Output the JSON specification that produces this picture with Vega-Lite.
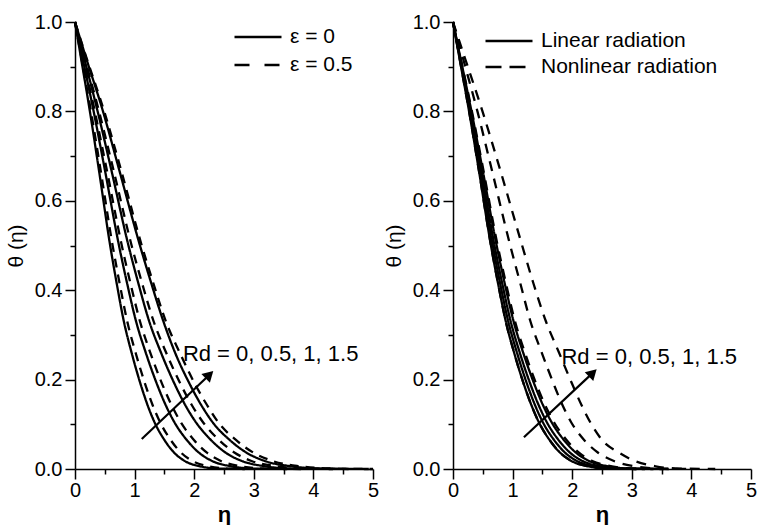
{
"$schema":"https://vega.github.io/schema/vega-lite/v6.json",
"background":"white",
"padding":{"left":5,"top":12,"right":5,"bottom":0},
"config":{
"view":{"stroke":null},
"font":"Liberation Sans",
"axis":{"domainColor":"black","domainWidth":1.5,"tickColor":"black","tickWidth":1.5,"labelColor":"black","titleColor":"black","grid":false,"labelFont":"Liberation Sans","labelFontSize":20,"titleFont":"Liberation Sans","titleFontSize":21,"titleFontWeight":"normal","labelFlush":false,"labelOverlap":false},
"legend":{"padding":0,"labelFont":"Liberation Sans","labelFontSize":21,"labelColor":"black","labelLimit":400,"symbolType":"stroke","symbolSize":2209,"symbolStrokeWidth":2.5,"symbolStrokeColor":"black","clipHeight":20,"labelOffset":7}
},
"datasets":{
"left":[
{"curve":"Rd0_e0","series":"ε = 0","eta":0,"theta":1},{"curve":"Rd0_e0","series":"ε = 0","eta":0.10,"theta":0.92},{"curve":"Rd0_e0","series":"ε = 0","eta":0.25,"theta":0.8},{"curve":"Rd0_e0","series":"ε = 0","eta":0.40,"theta":0.67},{"curve":"Rd0_e0","series":"ε = 0","eta":0.59,"theta":0.5},{"curve":"Rd0_e0","series":"ε = 0","eta":0.70,"theta":0.415},{"curve":"Rd0_e0","series":"ε = 0","eta":0.82,"theta":0.33},{"curve":"Rd0_e0","series":"ε = 0","eta":0.95,"theta":0.26},{"curve":"Rd0_e0","series":"ε = 0","eta":1.10,"theta":0.19},{"curve":"Rd0_e0","series":"ε = 0","eta":1.22,"theta":0.142},{"curve":"Rd0_e0","series":"ε = 0","eta":1.34,"theta":0.103},{"curve":"Rd0_e0","series":"ε = 0","eta":1.50,"theta":0.065},{"curve":"Rd0_e0","series":"ε = 0","eta":1.66,"theta":0.037},{"curve":"Rd0_e0","series":"ε = 0","eta":1.84,"theta":0.018},{"curve":"Rd0_e0","series":"ε = 0","eta":2.10,"theta":0.006},{"curve":"Rd0_e0","series":"ε = 0","eta":2.40,"theta":0.001},{"curve":"Rd0_e0","series":"ε = 0","eta":2.85,"theta":0},
{"curve":"Rd0_e05","series":"ε = 0.5","eta":0,"theta":1},{"curve":"Rd0_e05","series":"ε = 0.5","eta":0.107,"theta":0.92},{"curve":"Rd0_e05","series":"ε = 0.5","eta":0.268,"theta":0.8},{"curve":"Rd0_e05","series":"ε = 0.5","eta":0.428,"theta":0.67},{"curve":"Rd0_e05","series":"ε = 0.5","eta":0.631,"theta":0.5},{"curve":"Rd0_e05","series":"ε = 0.5","eta":0.749,"theta":0.415},{"curve":"Rd0_e05","series":"ε = 0.5","eta":0.877,"theta":0.33},{"curve":"Rd0_e05","series":"ε = 0.5","eta":1.017,"theta":0.26},{"curve":"Rd0_e05","series":"ε = 0.5","eta":1.177,"theta":0.19},{"curve":"Rd0_e05","series":"ε = 0.5","eta":1.305,"theta":0.142},{"curve":"Rd0_e05","series":"ε = 0.5","eta":1.434,"theta":0.103},{"curve":"Rd0_e05","series":"ε = 0.5","eta":1.605,"theta":0.065},{"curve":"Rd0_e05","series":"ε = 0.5","eta":1.776,"theta":0.037},{"curve":"Rd0_e05","series":"ε = 0.5","eta":1.969,"theta":0.018},{"curve":"Rd0_e05","series":"ε = 0.5","eta":2.247,"theta":0.006},{"curve":"Rd0_e05","series":"ε = 0.5","eta":2.568,"theta":0.001},{"curve":"Rd0_e05","series":"ε = 0.5","eta":3.05,"theta":0},
{"curve":"Rd05_e0","series":"ε = 0","eta":0,"theta":1},{"curve":"Rd05_e0","series":"ε = 0","eta":0.125,"theta":0.92},{"curve":"Rd05_e0","series":"ε = 0","eta":0.313,"theta":0.8},{"curve":"Rd05_e0","series":"ε = 0","eta":0.5,"theta":0.67},{"curve":"Rd05_e0","series":"ε = 0","eta":0.738,"theta":0.5},{"curve":"Rd05_e0","series":"ε = 0","eta":0.875,"theta":0.415},{"curve":"Rd05_e0","series":"ε = 0","eta":1.025,"theta":0.33},{"curve":"Rd05_e0","series":"ε = 0","eta":1.188,"theta":0.26},{"curve":"Rd05_e0","series":"ε = 0","eta":1.375,"theta":0.19},{"curve":"Rd05_e0","series":"ε = 0","eta":1.525,"theta":0.142},{"curve":"Rd05_e0","series":"ε = 0","eta":1.675,"theta":0.103},{"curve":"Rd05_e0","series":"ε = 0","eta":1.875,"theta":0.065},{"curve":"Rd05_e0","series":"ε = 0","eta":2.075,"theta":0.037},{"curve":"Rd05_e0","series":"ε = 0","eta":2.3,"theta":0.018},{"curve":"Rd05_e0","series":"ε = 0","eta":2.625,"theta":0.006},{"curve":"Rd05_e0","series":"ε = 0","eta":3.0,"theta":0.001},{"curve":"Rd05_e0","series":"ε = 0","eta":3.56,"theta":0},
{"curve":"Rd05_e05","series":"ε = 0.5","eta":0,"theta":1},{"curve":"Rd05_e05","series":"ε = 0.5","eta":0.133,"theta":0.92},{"curve":"Rd05_e05","series":"ε = 0.5","eta":0.333,"theta":0.8},{"curve":"Rd05_e05","series":"ε = 0.5","eta":0.532,"theta":0.67},{"curve":"Rd05_e05","series":"ε = 0.5","eta":0.785,"theta":0.5},{"curve":"Rd05_e05","series":"ε = 0.5","eta":0.931,"theta":0.415},{"curve":"Rd05_e05","series":"ε = 0.5","eta":1.091,"theta":0.33},{"curve":"Rd05_e05","series":"ε = 0.5","eta":1.264,"theta":0.26},{"curve":"Rd05_e05","series":"ε = 0.5","eta":1.463,"theta":0.19},{"curve":"Rd05_e05","series":"ε = 0.5","eta":1.623,"theta":0.142},{"curve":"Rd05_e05","series":"ε = 0.5","eta":1.782,"theta":0.103},{"curve":"Rd05_e05","series":"ε = 0.5","eta":1.995,"theta":0.065},{"curve":"Rd05_e05","series":"ε = 0.5","eta":2.208,"theta":0.037},{"curve":"Rd05_e05","series":"ε = 0.5","eta":2.447,"theta":0.018},{"curve":"Rd05_e05","series":"ε = 0.5","eta":2.793,"theta":0.006},{"curve":"Rd05_e05","series":"ε = 0.5","eta":3.192,"theta":0.001},{"curve":"Rd05_e05","series":"ε = 0.5","eta":3.79,"theta":0},
{"curve":"Rd1_e0","series":"ε = 0","eta":0,"theta":1},{"curve":"Rd1_e0","series":"ε = 0","eta":0.152,"theta":0.92},{"curve":"Rd1_e0","series":"ε = 0","eta":0.38,"theta":0.8},{"curve":"Rd1_e0","series":"ε = 0","eta":0.608,"theta":0.67},{"curve":"Rd1_e0","series":"ε = 0","eta":0.897,"theta":0.5},{"curve":"Rd1_e0","series":"ε = 0","eta":1.064,"theta":0.415},{"curve":"Rd1_e0","series":"ε = 0","eta":1.246,"theta":0.33},{"curve":"Rd1_e0","series":"ε = 0","eta":1.444,"theta":0.26},{"curve":"Rd1_e0","series":"ε = 0","eta":1.672,"theta":0.19},{"curve":"Rd1_e0","series":"ε = 0","eta":1.854,"theta":0.142},{"curve":"Rd1_e0","series":"ε = 0","eta":2.037,"theta":0.103},{"curve":"Rd1_e0","series":"ε = 0","eta":2.28,"theta":0.065},{"curve":"Rd1_e0","series":"ε = 0","eta":2.523,"theta":0.037},{"curve":"Rd1_e0","series":"ε = 0","eta":2.797,"theta":0.018},{"curve":"Rd1_e0","series":"ε = 0","eta":3.192,"theta":0.006},{"curve":"Rd1_e0","series":"ε = 0","eta":3.648,"theta":0.001},{"curve":"Rd1_e0","series":"ε = 0","eta":4.33,"theta":0},
{"curve":"Rd1_e05","series":"ε = 0.5","eta":0,"theta":1},{"curve":"Rd1_e05","series":"ε = 0.5","eta":0.161,"theta":0.92},{"curve":"Rd1_e05","series":"ε = 0.5","eta":0.403,"theta":0.8},{"curve":"Rd1_e05","series":"ε = 0.5","eta":0.644,"theta":0.67},{"curve":"Rd1_e05","series":"ε = 0.5","eta":0.95,"theta":0.5},{"curve":"Rd1_e05","series":"ε = 0.5","eta":1.127,"theta":0.415},{"curve":"Rd1_e05","series":"ε = 0.5","eta":1.32,"theta":0.33},{"curve":"Rd1_e05","series":"ε = 0.5","eta":1.53,"theta":0.26},{"curve":"Rd1_e05","series":"ε = 0.5","eta":1.771,"theta":0.19},{"curve":"Rd1_e05","series":"ε = 0.5","eta":1.964,"theta":0.142},{"curve":"Rd1_e05","series":"ε = 0.5","eta":2.157,"theta":0.103},{"curve":"Rd1_e05","series":"ε = 0.5","eta":2.415,"theta":0.065},{"curve":"Rd1_e05","series":"ε = 0.5","eta":2.673,"theta":0.037},{"curve":"Rd1_e05","series":"ε = 0.5","eta":2.962,"theta":0.018},{"curve":"Rd1_e05","series":"ε = 0.5","eta":3.381,"theta":0.006},{"curve":"Rd1_e05","series":"ε = 0.5","eta":3.864,"theta":0.001},{"curve":"Rd1_e05","series":"ε = 0.5","eta":4.59,"theta":0},
{"curve":"Rd15_e0","series":"ε = 0","eta":0,"theta":1},{"curve":"Rd15_e0","series":"ε = 0","eta":0.185,"theta":0.92},{"curve":"Rd15_e0","series":"ε = 0","eta":0.47,"theta":0.8},{"curve":"Rd15_e0","series":"ε = 0","eta":0.74,"theta":0.67},{"curve":"Rd15_e0","series":"ε = 0","eta":1.09,"theta":0.5},{"curve":"Rd15_e0","series":"ε = 0","eta":1.281,"theta":0.415},{"curve":"Rd15_e0","series":"ε = 0","eta":1.484,"theta":0.33},{"curve":"Rd15_e0","series":"ε = 0","eta":1.68,"theta":0.26},{"curve":"Rd15_e0","series":"ε = 0","eta":1.925,"theta":0.19},{"curve":"Rd15_e0","series":"ε = 0","eta":2.123,"theta":0.142},{"curve":"Rd15_e0","series":"ε = 0","eta":2.318,"theta":0.103},{"curve":"Rd15_e0","series":"ε = 0","eta":2.595,"theta":0.065},{"curve":"Rd15_e0","series":"ε = 0","eta":2.872,"theta":0.037},{"curve":"Rd15_e0","series":"ε = 0","eta":3.183,"theta":0.018},{"curve":"Rd15_e0","series":"ε = 0","eta":3.633,"theta":0.006},{"curve":"Rd15_e0","series":"ε = 0","eta":4.152,"theta":0.001},{"curve":"Rd15_e0","series":"ε = 0","eta":4.93,"theta":0},
{"curve":"Rd15_e05","series":"ε = 0.5","eta":0,"theta":1},{"curve":"Rd15_e05","series":"ε = 0.5","eta":0.193,"theta":0.92},{"curve":"Rd15_e05","series":"ε = 0.5","eta":0.49,"theta":0.8},{"curve":"Rd15_e05","series":"ε = 0.5","eta":0.77,"theta":0.67},{"curve":"Rd15_e05","series":"ε = 0.5","eta":1.12,"theta":0.5},{"curve":"Rd15_e05","series":"ε = 0.5","eta":1.316,"theta":0.415},{"curve":"Rd15_e05","series":"ε = 0.5","eta":1.525,"theta":0.33},{"curve":"Rd15_e05","series":"ε = 0.5","eta":1.758,"theta":0.26},{"curve":"Rd15_e05","series":"ε = 0.5","eta":2.013,"theta":0.19},{"curve":"Rd15_e05","series":"ε = 0.5","eta":2.22,"theta":0.142},{"curve":"Rd15_e05","series":"ε = 0.5","eta":2.412,"theta":0.103},{"curve":"Rd15_e05","series":"ε = 0.5","eta":2.70,"theta":0.065},{"curve":"Rd15_e05","series":"ε = 0.5","eta":2.988,"theta":0.037},{"curve":"Rd15_e05","series":"ε = 0.5","eta":3.312,"theta":0.018},{"curve":"Rd15_e05","series":"ε = 0.5","eta":3.78,"theta":0.006},{"curve":"Rd15_e05","series":"ε = 0.5","eta":4.32,"theta":0.001},{"curve":"Rd15_e05","series":"ε = 0.5","eta":5.0,"theta":0}
],
"right":[
{"curve":"L0","kind":"Linear radiation","eta":0,"theta":1},{"curve":"L0","kind":"Linear radiation","eta":0.108,"theta":0.92},{"curve":"L0","kind":"Linear radiation","eta":0.27,"theta":0.8},{"curve":"L0","kind":"Linear radiation","eta":0.432,"theta":0.67},{"curve":"L0","kind":"Linear radiation","eta":0.637,"theta":0.5},{"curve":"L0","kind":"Linear radiation","eta":0.756,"theta":0.415},{"curve":"L0","kind":"Linear radiation","eta":0.886,"theta":0.33},{"curve":"L0","kind":"Linear radiation","eta":1.026,"theta":0.26},{"curve":"L0","kind":"Linear radiation","eta":1.188,"theta":0.19},{"curve":"L0","kind":"Linear radiation","eta":1.318,"theta":0.142},{"curve":"L0","kind":"Linear radiation","eta":1.447,"theta":0.103},{"curve":"L0","kind":"Linear radiation","eta":1.62,"theta":0.065},{"curve":"L0","kind":"Linear radiation","eta":1.793,"theta":0.037},{"curve":"L0","kind":"Linear radiation","eta":1.987,"theta":0.018},{"curve":"L0","kind":"Linear radiation","eta":2.268,"theta":0.006},{"curve":"L0","kind":"Linear radiation","eta":2.592,"theta":0.001},{"curve":"L0","kind":"Linear radiation","eta":3.078,"theta":0},
{"curve":"L05","kind":"Linear radiation","eta":0,"theta":1},{"curve":"L05","kind":"Linear radiation","eta":0.113,"theta":0.92},{"curve":"L05","kind":"Linear radiation","eta":0.283,"theta":0.8},{"curve":"L05","kind":"Linear radiation","eta":0.452,"theta":0.67},{"curve":"L05","kind":"Linear radiation","eta":0.667,"theta":0.5},{"curve":"L05","kind":"Linear radiation","eta":0.791,"theta":0.415},{"curve":"L05","kind":"Linear radiation","eta":0.927,"theta":0.33},{"curve":"L05","kind":"Linear radiation","eta":1.074,"theta":0.26},{"curve":"L05","kind":"Linear radiation","eta":1.243,"theta":0.19},{"curve":"L05","kind":"Linear radiation","eta":1.379,"theta":0.142},{"curve":"L05","kind":"Linear radiation","eta":1.514,"theta":0.103},{"curve":"L05","kind":"Linear radiation","eta":1.695,"theta":0.065},{"curve":"L05","kind":"Linear radiation","eta":1.876,"theta":0.037},{"curve":"L05","kind":"Linear radiation","eta":2.079,"theta":0.018},{"curve":"L05","kind":"Linear radiation","eta":2.373,"theta":0.006},{"curve":"L05","kind":"Linear radiation","eta":2.712,"theta":0.001},{"curve":"L05","kind":"Linear radiation","eta":3.221,"theta":0},
{"curve":"L1","kind":"Linear radiation","eta":0,"theta":1},{"curve":"L1","kind":"Linear radiation","eta":0.118,"theta":0.92},{"curve":"L1","kind":"Linear radiation","eta":0.295,"theta":0.8},{"curve":"L1","kind":"Linear radiation","eta":0.472,"theta":0.67},{"curve":"L1","kind":"Linear radiation","eta":0.696,"theta":0.5},{"curve":"L1","kind":"Linear radiation","eta":0.826,"theta":0.415},{"curve":"L1","kind":"Linear radiation","eta":0.968,"theta":0.33},{"curve":"L1","kind":"Linear radiation","eta":1.121,"theta":0.26},{"curve":"L1","kind":"Linear radiation","eta":1.298,"theta":0.19},{"curve":"L1","kind":"Linear radiation","eta":1.44,"theta":0.142},{"curve":"L1","kind":"Linear radiation","eta":1.581,"theta":0.103},{"curve":"L1","kind":"Linear radiation","eta":1.77,"theta":0.065},{"curve":"L1","kind":"Linear radiation","eta":1.959,"theta":0.037},{"curve":"L1","kind":"Linear radiation","eta":2.171,"theta":0.018},{"curve":"L1","kind":"Linear radiation","eta":2.478,"theta":0.006},{"curve":"L1","kind":"Linear radiation","eta":2.832,"theta":0.001},{"curve":"L1","kind":"Linear radiation","eta":3.363,"theta":0},
{"curve":"L15","kind":"Linear radiation","eta":0,"theta":1},{"curve":"L15","kind":"Linear radiation","eta":0.124,"theta":0.92},{"curve":"L15","kind":"Linear radiation","eta":0.31,"theta":0.8},{"curve":"L15","kind":"Linear radiation","eta":0.496,"theta":0.67},{"curve":"L15","kind":"Linear radiation","eta":0.732,"theta":0.5},{"curve":"L15","kind":"Linear radiation","eta":0.868,"theta":0.415},{"curve":"L15","kind":"Linear radiation","eta":1.017,"theta":0.33},{"curve":"L15","kind":"Linear radiation","eta":1.178,"theta":0.26},{"curve":"L15","kind":"Linear radiation","eta":1.364,"theta":0.19},{"curve":"L15","kind":"Linear radiation","eta":1.513,"theta":0.142},{"curve":"L15","kind":"Linear radiation","eta":1.662,"theta":0.103},{"curve":"L15","kind":"Linear radiation","eta":1.86,"theta":0.065},{"curve":"L15","kind":"Linear radiation","eta":2.058,"theta":0.037},{"curve":"L15","kind":"Linear radiation","eta":2.282,"theta":0.018},{"curve":"L15","kind":"Linear radiation","eta":2.604,"theta":0.006},{"curve":"L15","kind":"Linear radiation","eta":2.976,"theta":0.001},{"curve":"L15","kind":"Linear radiation","eta":3.534,"theta":0},
{"curve":"N0","kind":"Nonlinear radiation","eta":0,"theta":1},{"curve":"N0","kind":"Nonlinear radiation","eta":0.108,"theta":0.92},{"curve":"N0","kind":"Nonlinear radiation","eta":0.27,"theta":0.8},{"curve":"N0","kind":"Nonlinear radiation","eta":0.432,"theta":0.67},{"curve":"N0","kind":"Nonlinear radiation","eta":0.637,"theta":0.5},{"curve":"N0","kind":"Nonlinear radiation","eta":0.756,"theta":0.415},{"curve":"N0","kind":"Nonlinear radiation","eta":0.886,"theta":0.33},{"curve":"N0","kind":"Nonlinear radiation","eta":1.026,"theta":0.26},{"curve":"N0","kind":"Nonlinear radiation","eta":1.188,"theta":0.19},{"curve":"N0","kind":"Nonlinear radiation","eta":1.318,"theta":0.142},{"curve":"N0","kind":"Nonlinear radiation","eta":1.447,"theta":0.103},{"curve":"N0","kind":"Nonlinear radiation","eta":1.62,"theta":0.065},{"curve":"N0","kind":"Nonlinear radiation","eta":1.793,"theta":0.037},{"curve":"N0","kind":"Nonlinear radiation","eta":1.987,"theta":0.018},{"curve":"N0","kind":"Nonlinear radiation","eta":2.268,"theta":0.006},{"curve":"N0","kind":"Nonlinear radiation","eta":2.592,"theta":0.001},{"curve":"N0","kind":"Nonlinear radiation","eta":3.078,"theta":0},
{"curve":"N05","kind":"Nonlinear radiation","eta":0,"theta":1},{"curve":"N05","kind":"Nonlinear radiation","eta":0.127,"theta":0.92},{"curve":"N05","kind":"Nonlinear radiation","eta":0.318,"theta":0.8},{"curve":"N05","kind":"Nonlinear radiation","eta":0.508,"theta":0.67},{"curve":"N05","kind":"Nonlinear radiation","eta":0.749,"theta":0.5},{"curve":"N05","kind":"Nonlinear radiation","eta":0.889,"theta":0.415},{"curve":"N05","kind":"Nonlinear radiation","eta":1.041,"theta":0.33},{"curve":"N05","kind":"Nonlinear radiation","eta":1.207,"theta":0.26},{"curve":"N05","kind":"Nonlinear radiation","eta":1.397,"theta":0.19},{"curve":"N05","kind":"Nonlinear radiation","eta":1.549,"theta":0.142},{"curve":"N05","kind":"Nonlinear radiation","eta":1.702,"theta":0.103},{"curve":"N05","kind":"Nonlinear radiation","eta":1.905,"theta":0.065},{"curve":"N05","kind":"Nonlinear radiation","eta":2.108,"theta":0.037},{"curve":"N05","kind":"Nonlinear radiation","eta":2.337,"theta":0.018},{"curve":"N05","kind":"Nonlinear radiation","eta":2.667,"theta":0.006},{"curve":"N05","kind":"Nonlinear radiation","eta":3.048,"theta":0.001},{"curve":"N05","kind":"Nonlinear radiation","eta":3.62,"theta":0},
{"curve":"N1","kind":"Nonlinear radiation","eta":0,"theta":1},{"curve":"N1","kind":"Nonlinear radiation","eta":0.165,"theta":0.92},{"curve":"N1","kind":"Nonlinear radiation","eta":0.41,"theta":0.8},{"curve":"N1","kind":"Nonlinear radiation","eta":0.65,"theta":0.67},{"curve":"N1","kind":"Nonlinear radiation","eta":0.96,"theta":0.5},{"curve":"N1","kind":"Nonlinear radiation","eta":1.13,"theta":0.415},{"curve":"N1","kind":"Nonlinear radiation","eta":1.3,"theta":0.33},{"curve":"N1","kind":"Nonlinear radiation","eta":1.49,"theta":0.26},{"curve":"N1","kind":"Nonlinear radiation","eta":1.69,"theta":0.19},{"curve":"N1","kind":"Nonlinear radiation","eta":1.84,"theta":0.142},{"curve":"N1","kind":"Nonlinear radiation","eta":1.99,"theta":0.103},{"curve":"N1","kind":"Nonlinear radiation","eta":2.2,"theta":0.065},{"curve":"N1","kind":"Nonlinear radiation","eta":2.43,"theta":0.037},{"curve":"N1","kind":"Nonlinear radiation","eta":2.7,"theta":0.018},{"curve":"N1","kind":"Nonlinear radiation","eta":3.05,"theta":0.006},{"curve":"N1","kind":"Nonlinear radiation","eta":3.45,"theta":0.001},{"curve":"N1","kind":"Nonlinear radiation","eta":4.0,"theta":0},
{"curve":"N15","kind":"Nonlinear radiation","eta":0,"theta":1},{"curve":"N15","kind":"Nonlinear radiation","eta":0.198,"theta":0.92},{"curve":"N15","kind":"Nonlinear radiation","eta":0.495,"theta":0.8},{"curve":"N15","kind":"Nonlinear radiation","eta":0.79,"theta":0.67},{"curve":"N15","kind":"Nonlinear radiation","eta":1.16,"theta":0.5},{"curve":"N15","kind":"Nonlinear radiation","eta":1.35,"theta":0.415},{"curve":"N15","kind":"Nonlinear radiation","eta":1.56,"theta":0.33},{"curve":"N15","kind":"Nonlinear radiation","eta":1.78,"theta":0.26},{"curve":"N15","kind":"Nonlinear radiation","eta":2.0,"theta":0.19},{"curve":"N15","kind":"Nonlinear radiation","eta":2.16,"theta":0.142},{"curve":"N15","kind":"Nonlinear radiation","eta":2.31,"theta":0.103},{"curve":"N15","kind":"Nonlinear radiation","eta":2.5,"theta":0.065},{"curve":"N15","kind":"Nonlinear radiation","eta":2.78,"theta":0.037},{"curve":"N15","kind":"Nonlinear radiation","eta":3.05,"theta":0.018},{"curve":"N15","kind":"Nonlinear radiation","eta":3.4,"theta":0.006},{"curve":"N15","kind":"Nonlinear radiation","eta":3.8,"theta":0.001},{"curve":"N15","kind":"Nonlinear radiation","eta":4.4,"theta":0}
],
"notes":[
{"panel":"left","ax":1.12,"ay":0.067,"hx":2.256,"hy":0.211,"tx":1.81,"ty":0.242,"label":"Rd = 0, 0.5, 1, 1.5"},
{"panel":"right","ax":1.19,"ay":0.071,"hx":2.346,"hy":0.215,"tx":1.82,"ty":0.234,"label":"Rd = 0, 0.5, 1, 1.5"}
]
},
"spacing":4,
"resolve":{"scale":{"strokeDash":"independent"},"legend":{"strokeDash":"independent"}},
"hconcat":[
{
"width":298,"height":447,
"resolve":{"axis":{"x":"independent","y":"independent"},"scale":{"strokeDash":"independent"},"legend":{"strokeDash":"independent"}},
"layer":[
{"data":{"name":"left"},
"mark":{"type":"line","color":"black","strokeWidth":2.3,"interpolate":"monotone"},
"encoding":{
"x":{"field":"eta","type":"quantitative","scale":{"domain":[0,5],"nice":false},"axis":{"orient":"bottom","values":[0,1,2,3,4,5],"format":"d","tickSize":10,"labelPadding":1,"title":"η","titlePadding":4,"titleFontWeight":"bold","titleFontSize":22}},
"y":{"field":"theta","type":"quantitative","scale":{"domain":[0,1],"nice":false},"axis":{"orient":"left","values":[0,0.2,0.4,0.6,0.8,1.0],"format":".1f","tickSize":10,"labelPadding":3,"title":"θ (η)","titlePadding":8}},
"detail":{"field":"curve","type":"nominal"},
"strokeDash":{"field":"series","type":"nominal","scale":{"domain":["ε = 0","ε = 0.5"],"range":[[1,0],[9,7]]},"legend":null}
}},
{"data":{"name":"left"},"transform":[{"filter":"false"}],
"mark":{"type":"line","color":"black","strokeWidth":2.5},
"encoding":{
"x":{"field":"eta","type":"quantitative","scale":{"domain":[0,5],"nice":false},"axis":null},
"y":{"field":"theta","type":"quantitative","scale":{"domain":[0,1],"nice":false},"axis":null},
"strokeDash":{"field":"series","type":"nominal","scale":{"domain":["ε = 0","ε = 0.5"],"range":[[1,0],[15,15]]},
"legend":{"orient":"none","legendX":158,"legendY":5,"title":null,"rowPadding":7}}
}},
{"data":{"name":"notes"},"transform":[{"filter":"datum.panel === 'left'"}],
"mark":{"type":"rule","color":"black","strokeWidth":2.2},
"encoding":{
"x":{"field":"ax","type":"quantitative","scale":{"domain":[0,5],"nice":false},"axis":{"orient":"bottom","values":[0.5,1.5,2.5,3.5,4.5],"tickSize":5,"labels":false,"domain":false,"title":null}},
"y":{"field":"ay","type":"quantitative","scale":{"domain":[0,1],"nice":false},"axis":{"orient":"left","values":[0.1,0.3,0.5,0.7,0.9],"tickSize":5,"labels":false,"domain":false,"title":null}},
"x2":{"field":"hx"},"y2":{"field":"hy"}}},
{"data":{"name":"notes"},"transform":[{"filter":"datum.panel === 'left'"}],
"mark":{"type":"point","shape":"triangle-up","filled":true,"color":"black","opacity":1,"size":150,"angle":46},
"encoding":{
"x":{"field":"hx","type":"quantitative","scale":{"domain":[0,5],"nice":false},"axis":null},
"y":{"field":"hy","type":"quantitative","scale":{"domain":[0,1],"nice":false},"axis":null}}},
{"data":{"name":"notes"},"transform":[{"filter":"datum.panel === 'left'"}],
"mark":{"type":"text","font":"Liberation Sans","fontSize":22,"align":"left","baseline":"alphabetic","color":"black"},
"encoding":{
"x":{"field":"tx","type":"quantitative","scale":{"domain":[0,5],"nice":false},"axis":null},
"y":{"field":"ty","type":"quantitative","scale":{"domain":[0,1],"nice":false},"axis":null},
"text":{"field":"label"}}}
]
},
{
"width":298,"height":447,
"resolve":{"axis":{"x":"independent","y":"independent"},"scale":{"strokeDash":"independent"},"legend":{"strokeDash":"independent"}},
"layer":[
{"data":{"name":"right"},
"mark":{"type":"line","color":"black","strokeWidth":2.3,"interpolate":"monotone"},
"encoding":{
"x":{"field":"eta","type":"quantitative","scale":{"domain":[0,5],"nice":false},"axis":{"orient":"bottom","values":[0,1,2,3,4,5],"format":"d","tickSize":10,"labelPadding":1,"title":"η","titlePadding":4,"titleFontWeight":"bold","titleFontSize":22}},
"y":{"field":"theta","type":"quantitative","scale":{"domain":[0,1],"nice":false},"axis":{"orient":"left","values":[0,0.2,0.4,0.6,0.8,1.0],"format":".1f","tickSize":10,"labelPadding":3,"title":"θ (η)","titlePadding":8}},
"detail":{"field":"curve","type":"nominal"},
"strokeDash":{"field":"kind","type":"nominal","scale":{"domain":["Linear radiation","Nonlinear radiation"],"range":[[1,0],[10,8]]},"legend":null}
}},
{"data":{"name":"right"},"transform":[{"filter":"false"}],
"mark":{"type":"line","color":"black","strokeWidth":2.5},
"encoding":{
"x":{"field":"eta","type":"quantitative","scale":{"domain":[0,5],"nice":false},"axis":null},
"y":{"field":"theta","type":"quantitative","scale":{"domain":[0,1],"nice":false},"axis":null},
"strokeDash":{"field":"kind","type":"nominal","scale":{"domain":["Linear radiation","Nonlinear radiation"],"range":[[1,0],[16,8]]},
"legend":{"orient":"none","legendX":31,"legendY":9,"title":null,"rowPadding":5}}
}},
{"data":{"name":"notes"},"transform":[{"filter":"datum.panel === 'right'"}],
"mark":{"type":"rule","color":"black","strokeWidth":2.2},
"encoding":{
"x":{"field":"ax","type":"quantitative","scale":{"domain":[0,5],"nice":false},"axis":{"orient":"bottom","values":[0.5,1.5,2.5,3.5,4.5],"tickSize":5,"labels":false,"domain":false,"title":null}},
"y":{"field":"ay","type":"quantitative","scale":{"domain":[0,1],"nice":false},"axis":{"orient":"left","values":[0.1,0.3,0.5,0.7,0.9],"tickSize":5,"labels":false,"domain":false,"title":null}},
"x2":{"field":"hx"},"y2":{"field":"hy"}}},
{"data":{"name":"notes"},"transform":[{"filter":"datum.panel === 'right'"}],
"mark":{"type":"point","shape":"triangle-up","filled":true,"color":"black","opacity":1,"size":150,"angle":46},
"encoding":{
"x":{"field":"hx","type":"quantitative","scale":{"domain":[0,5],"nice":false},"axis":null},
"y":{"field":"hy","type":"quantitative","scale":{"domain":[0,1],"nice":false},"axis":null}}},
{"data":{"name":"notes"},"transform":[{"filter":"datum.panel === 'right'"}],
"mark":{"type":"text","font":"Liberation Sans","fontSize":22,"align":"left","baseline":"alphabetic","color":"black"},
"encoding":{
"x":{"field":"tx","type":"quantitative","scale":{"domain":[0,5],"nice":false},"axis":null},
"y":{"field":"ty","type":"quantitative","scale":{"domain":[0,1],"nice":false},"axis":null},
"text":{"field":"label"}}}
]
}
]
}
